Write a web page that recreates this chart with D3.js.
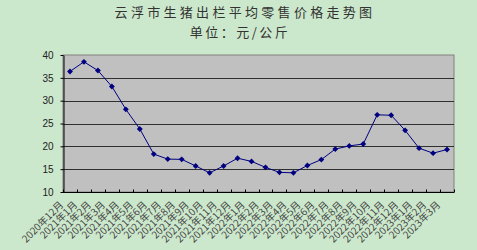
<!DOCTYPE html>
<html><head><meta charset="utf-8">
<script src="https://cdn.jsdelivr.net/npm/d3@7"></script>
<style>body{margin:0;background:#CCE8CC;}svg{display:block;}</style>
</head><body>
<svg id="c" width="477" height="250"></svg>
<script>
const title = "云浮市生猪出栏平均零售价格走势图";
const subtitle = "单位：元/公斤";
const categories = ["2020年12月","2021年1月","2021年2月","2021年3月","2021年4月","2021年5月","2021年6月","2021年7月","2021年8月","2021年9月","2021年10月","2021年11月","2021年12月","2022年1月","2022年2月","2022年3月","2022年4月","2022年5月","2022年6月","2022年7月","2022年8月","2022年9月","2022年10月","2022年11月","2022年12月","2023年1月","2023年2月","2023年3月"];
const prices = [36.4,38.5,36.6,33.1,28.1,23.8,18.3,17.2,17.15,15.7,14.2,15.7,17.4,16.7,15.4,14.3,14.2,15.8,17.1,19.4,20.1,20.5,26.9,26.8,23.5,19.6,18.5,19.3];
const yTicks = [10,15,20,25,30,35,40];

const svg = d3.select("#c");
const font = "'Noto Sans CJK SC', 'Liberation Sans', sans-serif";
const L=63, R=454, T=55, B=192;
const x = d3.scaleBand().domain(categories).range([L,R]);
const y = d3.scaleLinear().domain([10,40]).range([B,T]);

svg.append("rect").attr("width",477).attr("height",250).attr("fill","#CCE8CC");
svg.append("text").attr("x",245).attr("y",17).attr("text-anchor","middle")
  .attr("font-family",font).attr("font-size",13).attr("letter-spacing",3.3).attr("fill","#333").text(title);
svg.append("text").attr("x",240).attr("y",37).attr("text-anchor","middle")
  .attr("font-family",font).attr("font-size",13).attr("letter-spacing",2.5).attr("fill","#333").text(subtitle);

svg.append("rect").attr("x",L).attr("y",T).attr("width",R-L).attr("height",B-T)
  .attr("fill","#C0C0C0").attr("stroke","#808080").attr("stroke-width",1);

svg.append("g").selectAll("line").data(yTicks.filter(d=>d>10&&d<40)).join("line")
  .attr("x1",L).attr("x2",R).attr("y1",d=>Math.round(y(d))+0.5).attr("y2",d=>Math.round(y(d))+0.5)
  .attr("stroke","#303030").attr("stroke-width",1);

const ya = svg.append("g").attr("transform",`translate(${L+0.5},0)`)
  .call(d3.axisLeft(y).tickValues(yTicks).tickSize(3).tickSizeOuter(0));
ya.select(".domain").attr("stroke","#000");
ya.selectAll(".tick line").attr("stroke","#000");
ya.selectAll("text").attr("font-family","'Liberation Sans', sans-serif").attr("font-size",10).attr("fill","#222").attr("x",-10);

// bottom axis
const xa = svg.append("g").attr("transform",`translate(0,${B+0.5})`);
xa.append("line").attr("x1",L).attr("x2",R).attr("stroke","#000");
const bounds = d3.range(categories.length+1).map(i=>L+i*x.step());
xa.selectAll("line.t").data(bounds).join("line").attr("class","t")
  .attr("x1",d=>Math.round(d)+0.5).attr("x2",d=>Math.round(d)+0.5).attr("y1",0).attr("y2",-3).attr("stroke","#000");
xa.selectAll("text").data(categories).join("text")
  .attr("transform",d=>`translate(${x(d)+x.bandwidth()/2-6},13) rotate(-45)`)
  .attr("text-anchor","end").attr("font-family",font).attr("font-size",10).attr("fill","#444")
  .text(d=>d);

const line = d3.line().x((d,i)=>x(categories[i])+x.bandwidth()/2).y(d=>y(d));
svg.append("path").datum(prices).attr("d",line).attr("fill","none").attr("stroke","#000080").attr("stroke-width",1);
svg.append("g").selectAll("path").data(prices).join("path")
  .attr("transform",(d,i)=>`translate(${x(categories[i])+x.bandwidth()/2},${y(d)})`)
  .attr("d",d3.symbol(d3.symbolDiamond2,22)()).attr("fill","#000080");
</script>
</body></html>
